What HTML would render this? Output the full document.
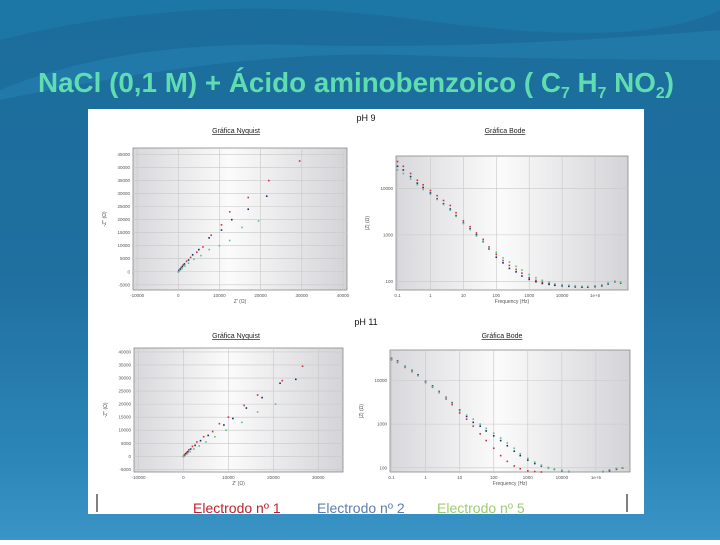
<!DOCTYPE html>
<html><head><meta charset="utf-8"><style>
html,body{margin:0;padding:0}
body{width:720px;height:540px;overflow:hidden;font-family:"Liberation Sans",sans-serif}
</style></head><body>
<svg width="720" height="540" viewBox="0 0 720 540" id="svg">
<defs>
<linearGradient id="bg" x1="0" y1="0" x2="0" y2="1">
<stop offset="0" stop-color="#1b6d9c"/><stop offset="0.5" stop-color="#1f6f9f"/><stop offset="0.85" stop-color="#2c86b8"/><stop offset="1" stop-color="#3a95c6"/></linearGradient>
<linearGradient id="pg" x1="0" y1="0" x2="1" y2="0">
<stop offset="0" stop-color="#d8d8dc"/><stop offset="0.45" stop-color="#fbfbfb"/><stop offset="1" stop-color="#d4d4d8"/></linearGradient>
<clipPath id="imgclip"><rect x="88" y="109" width="556" height="405"/></clipPath>
</defs>
<rect width="720" height="540" fill="url(#bg)"/>
<path d="M0 40 Q200 -10 420 20 T720 10 L720 0 L0 0 Z" fill="#1d7fb0" opacity="0.5"/>
<path d="M0 90 Q120 40 300 45 T720 30 L720 60 Q560 60 400 55 T0 100 Z" fill="#2a8fbf" opacity="0.35"/>
<text x="38" y="92" font-size="28" font-weight="bold" fill="#5fdcb0" textLength="636" lengthAdjust="spacingAndGlyphs">NaCl (0,1 M) + Ácido aminobenzoico ( C<tspan font-size="16" dy="6">7</tspan><tspan dy="-6"> H</tspan><tspan font-size="16" dy="6">7</tspan><tspan dy="-6"> NO</tspan><tspan font-size="16" dy="6">2</tspan><tspan dy="-6">)</tspan></text>
<rect x="88" y="109" width="556" height="405" fill="#ffffff"/>
<text x="366" y="121" font-size="9" text-anchor="middle" fill="#111">pH 9</text>
<text x="366" y="325" font-size="9" text-anchor="middle" fill="#111">pH 11</text>
<g id="plots"></g>
<line x1="97" y1="494" x2="97" y2="512" stroke="#000"/>
<line x1="627" y1="494" x2="627" y2="512" stroke="#000"/>
<g clip-path="url(#imgclip)">
<text x="193" y="513" font-size="14" fill="#c0202c">Electrodo nº 1</text>
<text x="317" y="513" font-size="14" fill="#5b7fae">Electrodo nº 2</text>
<text x="437" y="513" font-size="14" fill="#9ccc6e">Electrodo nº 5</text>
</g>
</svg>
<script>
// pH 9 Nyquist data (Z', -Z'')
const nyq9E1x=[0,300,700,1200,2000,3000,4500,6000,8000,10500,12500,17000,22000,29500];
const nyq9E1y=[0,800,1600,2600,4000,5500,7500,9500,14000,18000,23000,28500,35000,42500];
const nyq9E2x=[0,200,500,1000,1500,2500,3500,5000,7500,10500,13000,17000,21500];
const nyq9E2y=[0,500,1000,2000,3000,4500,6500,8500,13000,16000,20000,24000,29000];
const nyq9E5x=[0,400,900,1600,2500,3800,5500,7500,10000,12500,15500,19500];
const nyq9E5y=[0,600,1200,2200,3300,4800,6200,8500,10000,12000,17000,19500];
// pH 11 Nyquist data
const nyq11E1x=[0,300,700,1200,2000,3000,4500,6500,8000,10000,13500,16500,22000,26500];
const nyq11E1y=[0,700,1500,2500,3800,5500,7500,9500,12500,15000,19500,23500,29000,34500];
const nyq11E2x=[0,200,500,1000,1600,2600,3800,5500,9000,11000,14000,17500,21500,25000];
const nyq11E2y=[0,400,1000,1800,2800,4200,6000,8000,12000,14500,18500,22500,28000,29500];
const nyq11E5x=[0,400,900,1500,2300,3500,5000,7000,9500,13000,16500,20500];
const nyq11E5y=[0,500,1000,1800,2800,4000,5500,7500,10000,13000,17000,20000];
// Bode frequencies and |Z|
const bodeF=[0.1,0.15,0.25,0.4,0.6,1,1.6,2.5,4,6,10,16,25,40,60,100,160,250,400,600,1000,1600,2500,4000,6000,10000,16000,25000,40000,60000,100000,160000,250000,400000,600000];
const bode9E1=[38000,30000,21000,15000,12000,9000,7000,5500,4300,3000,2000,1500,1100,800,550,380,280,220,180,150,120,105,95,90,85,82,80,78,76,76,78,82,90,100,95];
const bode9E2=[30000,25000,18000,13000,10500,8000,6000,4700,3600,2600,1800,1350,1000,720,500,330,250,190,160,130,110,98,90,86,82,80,78,76,75,75,77,80,88,98,92];
const bode9E5=[25000,21000,16000,12000,9500,7500,5800,4500,3400,2500,1750,1300,950,700,520,420,320,260,210,175,140,120,105,95,88,84,82,80,78,78,80,84,92,100,95];
const bode11E1=[30000,26000,20000,16000,13000,9000,7000,5300,3800,2800,1800,1300,900,600,420,280,190,140,110,95,85,82,80,78,77,76,75,74,74,75,76,78,84,92,98];
const bode11E2=[32000,28000,21000,17000,13500,9500,7500,5600,4100,3100,2100,1500,1100,900,700,540,420,320,240,190,150,125,110,100,92,86,82,78,76,76,78,82,88,96,100];
const bode11E5=[31000,27000,20500,16500,13000,9200,7200,5400,4000,3000,2000,1600,1300,1000,800,620,480,370,280,210,165,135,115,102,94,88,83,79,77,77,79,83,90,97,100];
const nyqXTicks=[-10000,0,10000,20000,30000,40000];
const nyq9YTicks=[-5000,0,5000,10000,15000,20000,25000,30000,35000,40000,45000];
const nyq11YTicks=[-5000,0,5000,10000,15000,20000,25000,30000,35000,40000];
const bodeXTicks=[0.1,1,10,100,1000,10000,100000];
const bodeXLabels=["0.1","1","10","100","1000","10000","1e+5"];
const bodeYTicks=[100,1000,10000];

const NS="http://www.w3.org/2000/svg";
const root=document.getElementById('plots');
const colors=["#d0303c","#1a2a6a","#5cc08a"];
function mk(tag,attrs,parent){const e=document.createElementNS(NS,tag);for(const k in attrs)e.setAttribute(k,attrs[k]);(parent||root).appendChild(e);return e;}
function txt(x,y,s,size,anchor,parent){const t=mk('text',{x:x,y:y,'font-size':size,'text-anchor':anchor,fill:'#555'},parent);t.textContent=s;return t;}

function panel(name,box,xs,ys,xTicks,xLabels,yTicks,series,xLabel,yLabel,title,titleX,titleY){
  const g=mk('g',{});
  
  
  const t=txt(titleX,titleY,title,7,'middle',g);t.setAttribute('text-decoration','underline');t.setAttribute('fill','#222');
  const bg=mk('rect',{x:box.x,y:box.y,width:box.w,height:box.h,fill:'url(#pg)',stroke:'#888','stroke-width':0.8},g);
  
  
  xTicks.forEach((v,i)=>{const px=xs(v);
    const l=mk('line',{x1:px,y1:box.y,x2:px,y2:box.y+box.h,stroke:'#c8c8c8','stroke-width':0.6},g);
    
    
    const tl=txt(px,box.y+box.h+7,xLabels[i],4.5,'middle',g);
    
    });
  yTicks.forEach(v=>{const py=ys(v);
    const l=mk('line',{x1:box.x,y1:py,x2:box.x+box.w,y2:py,stroke:'#c8c8c8','stroke-width':0.6},g);
    
    
    const tl=txt(box.x-3,py+1.5,String(v),4.5,'end',g);
    
    });
  const xl=txt(box.x+box.w/2,box.y+box.h+13,xLabel,5,'middle',g);
  
  
  const yl=txt(0,0,yLabel,5,'middle',g);
  yl.setAttribute('transform','translate('+(box.x-27)+','+(box.y+box.h/2)+') rotate(-90)');
  
  
  series.forEach((s,si)=>{s[0].forEach((xv,i)=>{
    const px=xs(xv),py=ys(s[1][i]);
    if(px<box.x||px>box.x+box.w||py<box.y||py>box.y+box.h)return;
    const c=mk('rect',{x:px-0.8,y:py-0.8,width:1.6,height:1.6,fill:colors[si]},g);
    
    });});
}
function lin(a,b,p,q){return v=>p+(v-a)/(b-a)*(q-p);}
function lg(a,b,p,q){return v=>p+(Math.log10(v)-Math.log10(a))/(Math.log10(b)-Math.log10(a))*(q-p);}

let b={x:133,y:148,w:214,h:142};
panel('nyquist-ph9',b,lin(-11000,41000,b.x,b.x+b.w),lin(-7000,47500,b.y+b.h,b.y),nyqXTicks,nyqXTicks.map(String),nyq9YTicks,
 [[nyq9E1x,nyq9E1y],[nyq9E2x,nyq9E2y],[nyq9E5x,nyq9E5y]],"Z' (Ω)","-Z'' (Ω)","Gráfica Nyquist",236,133);
b={x:396,y:156,w:232,h:134};
panel('bode-ph9',b,lg(0.09,1e6,b.x,b.x+b.w),lg(65,50000,b.y+b.h,b.y),bodeXTicks,bodeXLabels,bodeYTicks,
 [[bodeF,bode9E1],[bodeF,bode9E2],[bodeF,bode9E5]],"Frequency (Hz)","|Z| (Ω)","Gráfica Bode",505,133);
b={x:134,y:348,w:209,h:124};
panel('nyquist-ph11',b,lin(-11000,35500,b.x,b.x+b.w),lin(-6000,41500,b.y+b.h,b.y),nyqXTicks.slice(0,5),nyqXTicks.slice(0,5).map(String),nyq11YTicks,
 [[nyq11E1x,nyq11E1y],[nyq11E2x,nyq11E2y],[nyq11E5x,nyq11E5y]],"Z' (Ω)","-Z'' (Ω)","Gráfica Nyquist",236,338);
b={x:390,y:350,w:240,h:122};
panel('bode-ph11',b,lg(0.09,1e6,b.x,b.x+b.w),lg(80,50000,b.y+b.h,b.y),bodeXTicks,bodeXLabels,bodeYTicks,
 [[bodeF,bode11E1],[bodeF,bode11E2],[bodeF,bode11E5]],"Frequency (Hz)","|Z| (Ω)","Gráfica Bode",502,338);
</script>
</body></html>
